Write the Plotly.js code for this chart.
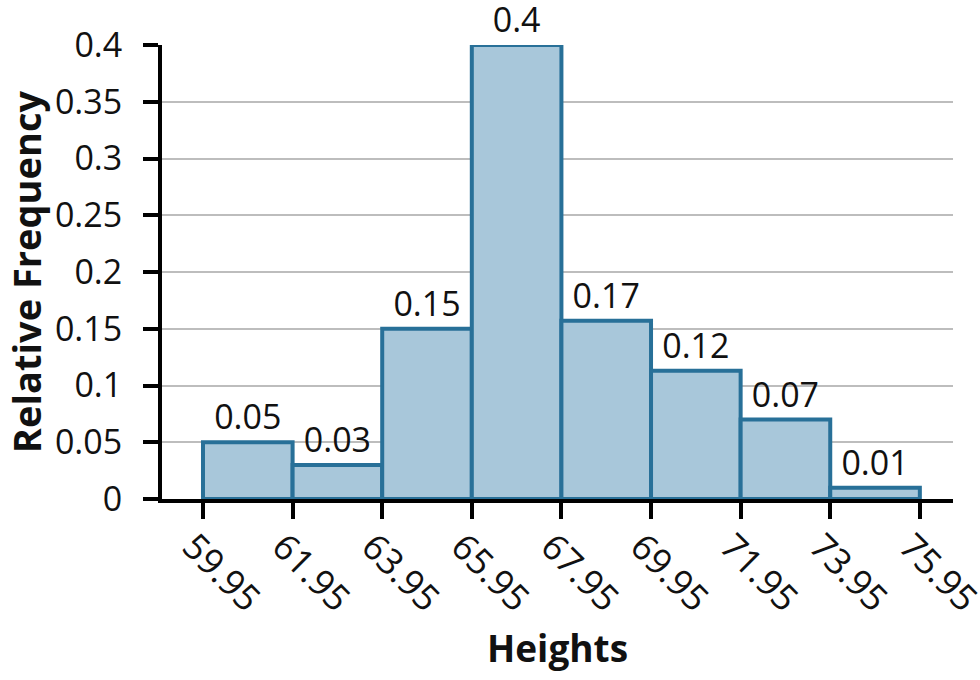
<!DOCTYPE html>
<html>
<head>
<meta charset="utf-8">
<script src="https://cdn.plot.ly/plotly-3.0.1.min.js"></script>
<style>
  html, body { margin: 0; padding: 0; background: #fff; }
  #chart { width: 980px; height: 680px; }
</style>
</head>
<body>
<div id="chart"></div>
<script>
// Class boundaries (left edges) and bar heights
const binStarts = [59.95, 61.95, 63.95, 65.95, 67.95, 69.95, 71.95, 73.95];
const binWidth = 2;
const heights = [0.05, 0.03, 0.15, 0.40, 0.157, 0.113, 0.07, 0.01];
const barLabels = ['0.05', '0.03', '0.15', '0.4', '0.17', '0.12', '0.07', '0.01'];
const xTicks = [59.95, 61.95, 63.95, 65.95, 67.95, 69.95, 71.95, 73.95, 75.95];
const yTicks = [0, 0.05, 0.1, 0.15, 0.2, 0.25, 0.3, 0.35, 0.4];

const font = '"Open Sans", "Noto Sans", sans-serif';

const bars = {
    type: 'bar',
    x: binStarts.map(s => s + binWidth / 2),
    y: heights,
    width: binWidth,
    text: barLabels,
    texttemplate: '%{text}',
    textposition: 'outside',
    constraintext: 'none',
    cliponaxis: false,
    textfont: { family: font, size: 34, color: '#111' },
    marker: {
        color: 'rgb(168, 199, 218)',
        line: { color: 'rgb(40, 112, 152)', width: 4 }
    },
    hoverinfo: 'none'
};

const layout = {
    width: 980,
    height: 680,
    showlegend: false,
    paper_bgcolor: '#fff',
    plot_bgcolor: '#fff',
    margin: { l: 162, r: 27, t: 45, b: 181 },
    font: { family: font, size: 34, color: '#111' },
    xaxis: {
        range: [59.035, 76.69],
        tickvals: xTicks,
        ticktext: xTicks.map(v => v.toFixed(2)),
        tickangle: 45,
        ticks: 'outside',
        ticklen: 16,
        tickwidth: 4,
        tickcolor: '#000',
        ticklabelstandoff: -8,
        ticklabelshift: -10,
        ticklabeloverflow: 'allow',
        showgrid: false,
        zeroline: false,
        showline: true,
        linecolor: '#000',
        linewidth: 4,
        tickfont: { family: font, size: 36, color: '#111' },
        title: {
            text: '<b>Heights</b>',
            font: { family: font, size: 37, color: '#111' },
            standoff: 10
        }
    },
    yaxis: {
        range: [0, 0.4],
        tickvals: yTicks,
        ticktext: yTicks.map(v => String(v)),
        ticks: 'outside',
        ticklen: 15,
        tickwidth: 4,
        tickcolor: '#000',
        ticklabelstandoff: 14,
        showgrid: true,
        gridcolor: '#bdbdbd',
        gridwidth: 2,
        zeroline: false,
        showline: true,
        linecolor: '#000',
        linewidth: 4,
        tickfont: { family: font, size: 34, color: '#111' },
        title: {
            text: '<b>Relative Frequency</b>',
            font: { family: font, size: 38, color: '#111' },
            standoff: 8
        }
    }
};

Plotly.newPlot('chart', [bars], layout, { staticPlot: true });
</script>
</body>
</html>
